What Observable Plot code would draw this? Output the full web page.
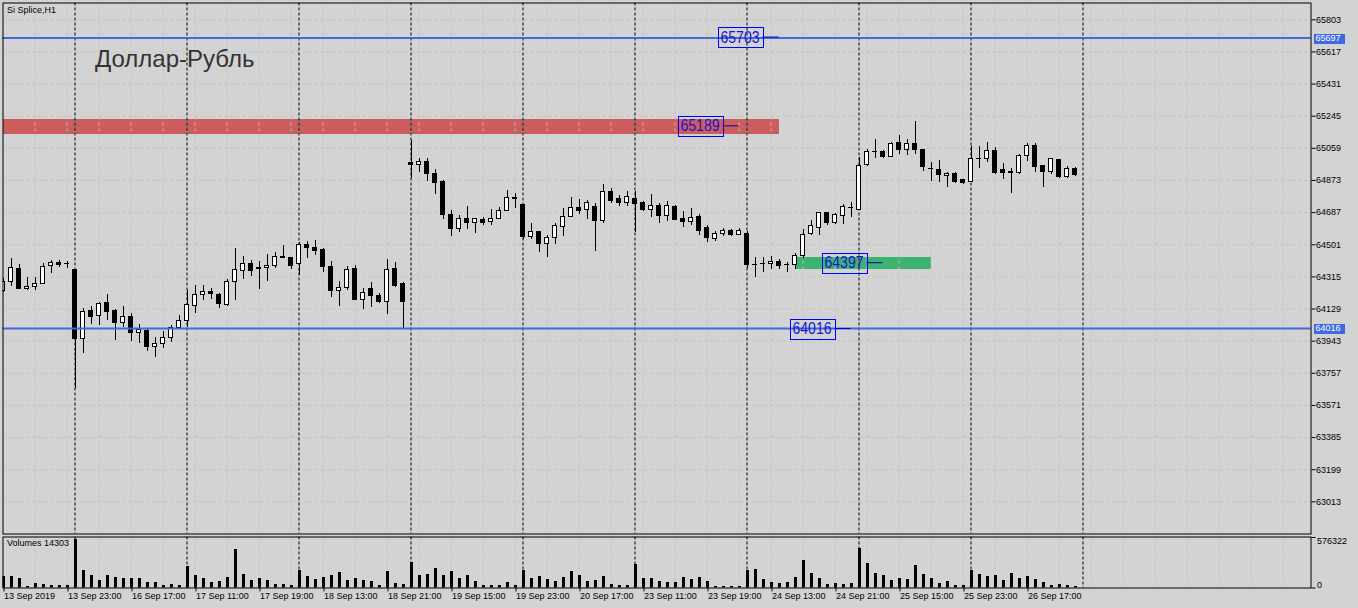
<!DOCTYPE html>
<html><head><meta charset="utf-8">
<script src="https://cdn.jsdelivr.net/npm/d3@7"></script>
<script src="https://cdn.jsdelivr.net/npm/@observablehq/plot@0.6"></script>
<style>
html,body{margin:0;padding:0;background:#d3d3d3;}
#wrap{position:relative;width:1358px;height:608px;overflow:hidden;background:#d3d3d3;font-family:"Liberation Sans",Arial,sans-serif;}
#wrap svg{display:block;}
.ttl{position:absolute;white-space:nowrap;}
</style></head><body>
<div id="wrap">
  <div id="main"></div>
  <div id="vol"></div>
  <div class="ttl" style="left:7px;top:5px;font-size:9px;color:#000;">Si Splice,H1</div>
  <div class="ttl" style="left:95px;top:45px;font-size:24px;color:#333;">Доллар-Рубль</div>
</div>
<script>
// ---- data ----
const opens  = [64236,64287,64362,64246,64255,64275,64379,64397,64391,64352,63954,64115,64090,64161,64115,64047,64080,63991,63999,63910,63928,63960,64022,64061,64149,64209,64230,64213,64153,64287,64350,64387,64369,64365,64377,64431,64425,64391,64501,64485,64468,64375,64234,64250,64363,64182,64242,64207,64171,64358,64271,64975,64963,64981,64913,64867,64674,64593,64651,64628,64647,64634,64649,64697,64773,64732,64545,64577,64506,64541,64605,64663,64711,64703,64722,64640,64809,64767,64744,64763,64740,64703,64728,64668,64722,64651,64635,64660,64599,64533,64564,64579,64560,64564,64386,64392,64388,64404,64386,64385,64435,64564,64599,64686,64626,64669,64713,64701,64963,65037,65039,65008,65091,65051,65085,65051,64941,64935,64900,64913,64873,64863,64997,64996,65045,64931,64920,64917,65012,65075,64954,64921,64994,64892,64937];
const highs  = [64306,64421,64387,64310,64314,64391,64410,64410,64406,64358,64134,64144,64167,64213,64126,64144,64101,64039,64016,63964,63999,64034,64091,64234,64263,64263,64250,64221,64300,64478,64433,64410,64406,64445,64456,64497,64428,64516,64520,64524,64478,64404,64288,64375,64381,64248,64281,64217,64414,64398,64282,65104,64999,64998,64935,64870,64699,64670,64722,64653,64660,64703,64715,64815,64796,64735,64622,64580,64555,64626,64712,64773,64761,64757,64742,64848,64828,64786,64809,64809,64753,64792,64740,64753,64728,64695,64709,64674,64612,64579,64593,64591,64593,64578,64429,64429,64433,64416,64400,64449,64589,64641,64688,64688,64684,64734,64744,65008,65052,65112,65047,65095,65132,65108,65214,65052,64977,64989,64921,64921,64879,65070,65070,65091,65066,64973,64941,65023,65089,65085,64960,65000,64996,64954,64950];
const lows   = [64225,64259,64242,64236,64236,64270,64336,64368,64362,63667,63870,64039,64034,64063,63947,64022,63943,63931,63885,63850,63902,63937,64009,64024,64101,64178,64186,64132,64144,64178,64298,64317,64244,64288,64362,64420,64356,64323,64423,64437,64342,64197,64144,64236,64180,64128,64140,64163,64097,64255,64012,64883,64921,64869,64793,64649,64550,64570,64591,64568,64614,64612,64646,64695,64711,64531,64530,64458,64425,64502,64550,64660,64674,64647,64464,64622,64738,64724,64724,64570,64692,64660,64626,64637,64645,64599,64612,64553,64512,64522,64550,64550,64558,64363,64313,64342,64359,64359,64342,64356,64420,64555,64555,64612,64618,64618,64660,64699,64954,65002,65002,65006,65023,65018,65023,64925,64869,64863,64831,64857,64850,64861,64944,64975,64906,64880,64799,64908,64985,64921,64834,64906,64883,64886,64898];
const closes = [64284,64368,64246,64258,64273,64373,64398,64383,64389,63954,64113,64082,64159,64111,64047,64080,63989,64005,63908,63929,63964,64018,64062,64153,64213,64229,64215,64159,64288,64352,64387,64350,64362,64379,64431,64423,64377,64502,64481,64464,64371,64232,64252,64356,64182,64223,64203,64168,64356,64265,64168,64963,64981,64913,64860,64672,64591,64651,64626,64651,64628,64651,64699,64773,64767,64545,64574,64506,64541,64608,64663,64715,64695,64740,64640,64807,64757,64744,64778,64738,64703,64728,64666,64728,64647,64635,64657,64579,64541,64564,64578,64560,64578,64385,64384,64390,64404,64377,64384,64435,64559,64608,64686,64626,64674,64721,64711,64958,65036,65035,65008,65085,65048,65085,65051,64950,64939,64906,64913,64863,64857,64996,64995,65042,64919,64917,64918,65012,65075,64950,64921,64999,64892,64941,64902];
const volumes = [138000,138000,114000,16000,49000,41000,28000,28000,28000,576322,
 211000,150000,89000,150000,126000,114000,114000,114000,65000,65000,
 28000,41000,28000,260000,150000,114000,69000,81000,126000,455000,
 162000,89000,114000,89000,41000,41000,28000,211000,138000,101000,
 126000,150000,187000,89000,114000,89000,77000,28000,199000,53000,
 41000,308000,150000,162000,235000,150000,199000,114000,150000,77000,
 28000,28000,28000,65000,28000,211000,114000,138000,101000,77000,
 126000,199000,150000,77000,89000,138000,41000,28000,28000,284000,
 114000,114000,77000,65000,65000,126000,101000,126000,77000,12000,
 12000,12000,12000,211000,223000,101000,65000,53000,65000,126000,
 321000,175000,114000,41000,53000,41000,53000,467000,296000,175000,
 150000,89000,114000,101000,272000,162000,114000,53000,77000,28000,
 28000,211000,162000,138000,150000,89000,175000,114000,138000,101000,
 65000,28000,41000,28000,14303];

const timeTicks  = [0,8,16,24,32,40,48,56,64,72,80,88,96,104,112,120,128];
const timeLabels = ["13 Sep 2019","13 Sep 23:00","16 Sep 17:00","17 Sep 11:00","17 Sep 19:00","18 Sep 13:00","18 Sep 21:00","19 Sep 15:00","19 Sep 23:00","20 Sep 17:00","23 Sep 11:00","23 Sep 19:00","24 Sep 13:00","24 Sep 21:00","25 Sep 15:00","25 Sep 23:00","26 Sep 17:00"];
const priceTicks = [65803,65617,65431,65245,65059,64873,64687,64501,64315,64129,63943,63757,63571,63385,63199,63013];
const sessionStarts = [9,23,37,51,65,79,93,107,121,135];   // first hourly bar of each day
const levels = [65697, 64016];                              // horizontal lines
const zoneFrom = [0, 99], zoneTo = [97, 116], zoneHigh = [65226, 64427], zoneLow = [65141, 64358];
const labelText = ["65703","65189","64397","64016"];
const labelPrice = [65703, 65189, 64397, 64016];
const labelBar = [97, 92, 110, 106];
const volMax = 576322;

// ---- build ----
const bars = d3.range(opens.length).map(i => ({i, o: opens[i], h: highs[i], l: lows[i], c: closes[i], v: volumes[i], up: closes[i] >= opens[i]}));
const xDomain = [0, 163.5];
const gridColor = "#c2c2c2";
const dash = "3,3";
const sepDash = "3,2";
const vGrid = d3.range(4, 164, 4);
const zoneFills = ["#cd5c5c", "#3cb371"];
const sepOnZone = ["#32a3a3", "#c34c8e"];   // separator seen through each zone (inverted colour)
const font = {fontFamily: "'Liberation Sans', Arial, sans-serif", fontSize: "9px", background: "transparent", overflow: "visible"};
const LABEL_FILL = "#1515d0", HILITE_FILL = "#ffffff";

const zoneMarks = [0, 1].flatMap(z => [
  Plot.rect([z], {x1: i => zoneFrom[i], x2: i => zoneTo[i], y1: i => zoneLow[i], y2: i => zoneHigh[i], fill: zoneFills[z], clip: true, shapeRendering: "crispEdges"})
]);
const zoneSepMarks = [0, 1].map(z =>
  Plot.ruleX(sessionStarts.filter(s => s >= zoneFrom[z] && s <= zoneTo[z]), {y1: zoneLow[z], y2: zoneHigh[z], stroke: sepOnZone[z], strokeDasharray: sepDash})
);

const main = Plot.plot({
  width: 1358, height: 535,
  marginLeft: 2.5, marginRight: 47.5, marginTop: 2.5, marginBottom: 1.5,
  x: {domain: xDomain, axis: null},
  y: {domain: [62826.8, 65900.2], axis: null},
  style: font,
  marks: [
    ...zoneMarks,
    Plot.ruleY(priceTicks, {stroke: gridColor, strokeDasharray: dash}),
    Plot.ruleX(vGrid, {stroke: gridColor, strokeDasharray: dash}),
    Plot.ruleX(sessionStarts, {stroke: "#000", strokeDasharray: sepDash}),
    ...zoneSepMarks,
    Plot.ruleX(bars, {x: "i", y1: "l", y2: "h", stroke: "black", shapeRendering: "crispEdges", clip: true}),
    Plot.rect(bars.filter(d => d.up), {x1: d => d.i - 0.5, x2: d => d.i + 0.5, y1: "o", y2: "c", insetLeft: 2, insetRight: 2, fill: "white", stroke: "black", shapeRendering: "crispEdges", clip: true}),
    Plot.rect(bars.filter(d => !d.up), {x1: d => d.i - 0.5, x2: d => d.i + 0.5, y1: "o", y2: "c", insetLeft: 2, insetRight: 2, fill: "black", stroke: "black", shapeRendering: "crispEdges", clip: true}),
    Plot.ruleY(levels, {stroke: "#4169e1", strokeWidth: 2}),
    Plot.ruleY(d3.range(labelText.length), {y: i => labelPrice[i], x1: i => labelBar[i] - 2, x2: i => labelBar[i], stroke: "#0000b0"}),
    Plot.text(d3.range(labelText.length), {x: i => labelBar[i] - 2, y: i => labelPrice[i], text: i => labelText[i], textAnchor: "end", dx: -3.5, fill: LABEL_FILL, fontSize: 17, fontFamily: "'Liberation Sans',Arial,sans-serif"}),
    Plot.frame({stroke: "black"}),
    Plot.axisY({ticks: priceTicks, anchor: "right", tickSize: 4, tickPadding: 1, tickFormat: d => String(d), label: null}),
    Plot.text(levels, {x: xDomain[1], y: d => d, text: d => String(d), textAnchor: "start", dx: 4.5, fill: HILITE_FILL})
  ]
});

const vol = Plot.plot({
  width: 1358, height: 73,
  marginLeft: 2.5, marginRight: 47.5, marginTop: 1.5, marginBottom: 20.5,
  x: {domain: xDomain, axis: null},
  y: {domain: [0, volMax], range: [52.5, 4], axis: null},
  style: font,
  marks: [
    Plot.ruleX(vGrid, {stroke: gridColor, strokeDasharray: dash}),
    Plot.ruleX(sessionStarts, {stroke: "#000", strokeDasharray: sepDash}),
    Plot.ruleX(bars, {x: "i", y1: 0, y2: "v", stroke: "black", strokeWidth: 3, shapeRendering: "crispEdges", clip: true}),
    Plot.frame({stroke: "black"}),
    Plot.axisX({ticks: timeTicks, anchor: "bottom", tickSize: 4, tickPadding: 1, textAnchor: "start", dx: 1, tickFormat: d => timeLabels[timeTicks.indexOf(d)], label: null}),
    Plot.axisY({ticks: [volMax], anchor: "right", tickSize: 4, tickPadding: 2, lineAnchor: "top", dy: -2, tickFormat: d => String(d), label: null}),
    Plot.axisY({ticks: [0], anchor: "right", tickSize: 4, tickPadding: 2, lineAnchor: "bottom", tickFormat: d => String(d), label: null}),
    Plot.text(["Volumes " + volumes[volumes.length - 1]], {frameAnchor: "top-left", dx: 4, dy: 3, lineAnchor: "top", textAnchor: "start", fill: "black"})
  ]
});

document.getElementById("main").appendChild(main);
document.getElementById("vol").appendChild(vol);

// boxes behind label texts (found by their group's fill)
function boxify(svg, groupFill, opts) {
  const groups = Array.from(svg.querySelectorAll("g")).filter(g => (g.getAttribute("fill") || "").toLowerCase() === groupFill);
  groups.forEach(g => {
    g.querySelectorAll("text").forEach(t => {
      if (opts.textLength) { t.setAttribute("textLength", opts.textLength); t.setAttribute("lengthAdjust", "spacingAndGlyphs"); }
      const b = t.getBBox();
      const cy = b.y + b.height / 2;
      const r = document.createElementNS("http://www.w3.org/2000/svg", "rect");
      r.setAttribute("x", Math.round(b.x - opts.padL) + 0.5);
      r.setAttribute("y", Math.round(cy - opts.halfH) + 0.5);
      r.setAttribute("width", Math.round(b.width + opts.padL + opts.padR));
      r.setAttribute("height", Math.round(opts.halfH * 2));
      r.setAttribute("fill", opts.fill);
      r.setAttribute("stroke", opts.stroke);
      r.setAttribute("shape-rendering", "crispEdges");
      const tr = t.getAttribute("transform");
      if (tr) r.setAttribute("transform", tr);
      t.parentNode.insertBefore(r, t);
    });
  });
}
boxify(main, LABEL_FILL, {padL: 3, padR: 3, halfH: 10, fill: "none", stroke: "#0000ff", textLength: 39});
boxify(main, HILITE_FILL, {padL: 2, padR: 4, halfH: 5, fill: "#4169e1", stroke: "none"});
</script>
</body></html>
